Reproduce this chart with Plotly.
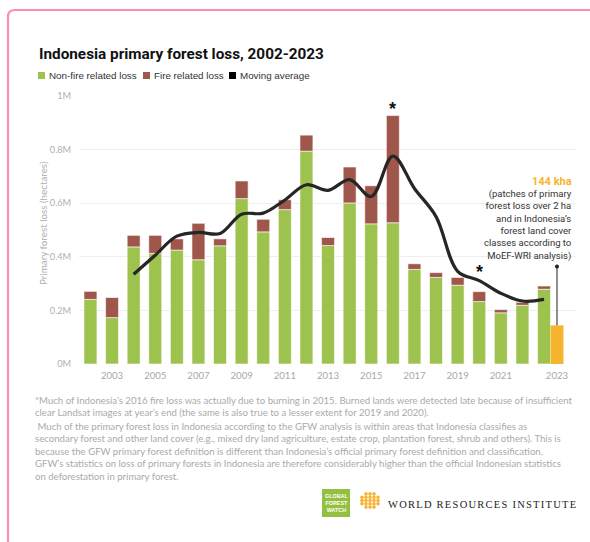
import plotly.graph_objects as go

# ---------------- data ----------------
years = list(range(2002, 2024))
non_fire = [0.241, 0.173, 0.437, 0.413, 0.425, 0.389, 0.441, 0.617, 0.493, 0.576, 0.794,
            0.442, 0.601, 0.523, 0.527, 0.353, 0.323, 0.294, 0.233, 0.191, 0.219, 0.279]
fire = [0.030, 0.075, 0.043, 0.067, 0.042, 0.136, 0.026, 0.066, 0.047, 0.037, 0.060,
        0.030, 0.134, 0.142, 0.400, 0.021, 0.018, 0.029, 0.037, 0.012, 0.011, 0.012]
ma_years = list(range(2004, 2024))
moving_avg = [0.335, 0.406, 0.477, 0.491, 0.487, 0.559, 0.563, 0.612, 0.669, 0.648,
              0.688, 0.625, 0.776, 0.655, 0.550, 0.346, 0.311, 0.264, 0.235, 0.241]
moef_year = [2023]
moef_value = [0.144]
star_years = [2016, 2020]
star_values = [0.950, 0.343]

y_ticks = [0, 0.2, 0.4, 0.6, 0.8, 1.0]
y_ticktext = ["0M", "0.2M", "0.4M", "0.6M", "0.8M", "1M"]
x_ticks = [2003, 2005, 2007, 2009, 2011, 2013, 2015, 2017, 2019, 2021, 2023.6]
x_ticktext = ["2003", "2005", "2007", "2009", "2011", "2013", "2015", "2017", "2019", "2021", "2023"]

GREEN = "#9dc24e"
BROWN = "#a0574b"
ORANGE = "#f5b52e"

# layout geometry (pixels)
FW, FH = 590, 542
L, R, T, B = 79, 14, 96, 178
PW, PH = FW - L - R, FH - T - B


def px(x):
    return (x - L) / PW


def py(y):
    return (FH - B - y) / PH


fig = go.Figure()

fig.add_trace(go.Bar(x=years, y=non_fire, marker=dict(color=GREEN, line=dict(color="white", width=0.6)),
                     width=0.6, name="Non-fire related loss", showlegend=False))
fig.add_trace(go.Bar(x=years, y=fire, base=non_fire,
                     marker=dict(color=BROWN, line=dict(color="white", width=0.6)),
                     width=0.6, name="Fire related loss", showlegend=False))
fig.add_trace(go.Bar(x=moef_year, y=moef_value, base=[0], offset=0.3, width=0.6,
                     marker=dict(color=ORANGE, line=dict(width=0)), showlegend=False))
fig.add_trace(go.Scatter(x=ma_years, y=moving_avg, mode="lines",
                         line=dict(color="#262626", width=3.2, shape="spline", smoothing=1.0),
                         showlegend=False))
# pointer from annotation to MoEF bar
fig.add_trace(go.Scatter(x=[2023.6, 2023.6], y=[0.364, moef_value[0]], mode="lines",
                         line=dict(color="#222", width=1), showlegend=False, hoverinfo="skip"))
fig.add_trace(go.Scatter(x=[2023.6], y=[0.364], mode="markers",
                         marker=dict(color="#222", size=4), showlegend=False, hoverinfo="skip"))

for sx, sy in zip(star_years, star_values):
    fig.add_annotation(x=sx, y=sy, text="<b>*</b>", showarrow=False, xref="x", yref="y",
                       font=dict(family="Liberation Sans", size=18, color="#111"),
                       xanchor="center", yanchor="middle")

annos = []
# title
annos.append(dict(x=px(37), y=py(54), text="<b>Indonesia primary forest loss, 2002-2023</b>",
                  font=dict(family="Roboto", size=15.3, color="#111"),
                  xanchor="left", yanchor="middle"))
# legend
leg = [(38, GREEN, "Non-fire related loss"), (143, BROWN, "Fire related loss"),
       (229, "#000000", "Moving average")]
shapes = []
for lx, col, txt in leg:
    shapes.append(dict(type="rect", xref="paper", yref="paper", x0=px(lx), x1=px(lx + 7),
                       y0=py(79), y1=py(72), fillcolor=col, line=dict(width=0)))
    annos.append(dict(x=px(lx + 8.5), y=py(75.5), text=txt, xanchor="left", yanchor="middle",
                      font=dict(family="Liberation Sans", size=9.8, color="#333")))
# y-axis title
annos.append(dict(x=px(43), y=py(223), text="Primary forest loss (hectares)", textangle=-90,
                  xanchor="center", yanchor="middle",
                  font=dict(family="Lato", size=9.8, color="#b0b0b0")))
# 144 kha annotation
annos.append(dict(x=px(574), y=py(181), text="<b>144 kha</b>", xanchor="right", yanchor="middle",
                  font=dict(family="Roboto", size=11, color=ORANGE)))
ann_text = ("(patches of primary<br>forest loss over 2 ha<br>and in Indonesia’s<br>"
            "forest land cover<br>classes according to<br>MoEF-WRI analysis)")
annos.append(dict(x=px(574), y=py(225.2), text=ann_text, xanchor="right", yanchor="middle",
                  align="right", font=dict(family="Roboto", size=9.5, color="#333")))
# footnotes
para1 = ("*Much of Indonesia’s 2016 fire loss was actually due to burning in 2015. Burned lands were detected late because of insufficient<br>"
         "clear Landsat images at year’s end (the same is also true to a lesser extent for 2019 and 2020).")
para2 = (" Much of the primary forest loss in Indonesia according to the GFW analysis is within areas that Indonesia classifies as<br>"
         "secondary forest and other land cover (e.g., mixed dry land agriculture, estate crop, plantation forest, shrub and others). This is<br>"
         "because the GFW primary forest definition is different than Indonesia’s official primary forest definition and classification.<br>"
         "GFW’s statistics on loss of primary forests in Indonesia are therefore considerably higher than the official Indonesian statistics<br>"
         "on deforestation in primary forest.")
annos.append(dict(x=px(33), y=py(406), text=para1, xanchor="left", yanchor="middle", align="left",
                  font=dict(family="Lato", size=9.6, color="#aaaaaa")))
annos.append(dict(x=px(33), y=py(451.5), text=para2, xanchor="left", yanchor="middle", align="left",
                  font=dict(family="Lato", size=9.6, color="#aaaaaa")))

# GFW logo
shapes.append(dict(type="rect", xref="paper", yref="paper", x0=px(322), x1=px(350),
                   y0=py(517), y1=py(489), fillcolor="#93c13f", line=dict(width=0)))
annos.append(dict(x=px(336), y=py(503), text="<b>GLOBAL<br>FOREST<br>WATCH</b>", xanchor="center",
                  yanchor="middle", align="center",
                  font=dict(family="Liberation Sans", size=5.4, color="white")))
# WRI emblem: dots in a round diamond
for r in range(-2, 3):
    for c in range(-2, 3):
        if abs(r) + abs(c) <= 3:
            cx, cy = 370 + c * 4, 500.5 + r * 3.3
            shapes.append(dict(type="circle", xref="paper", yref="paper",
                               x0=px(cx - 1.8), x1=px(cx + 1.8), y0=py(cy + 1.8), y1=py(cy - 1.8),
                               fillcolor="#f7b233", line=dict(width=0)))
annos.append(dict(x=px(482.5), y=py(504), xanchor="center", yanchor="middle",
                  text='<span style="letter-spacing:1.25px">WORLD RESOURCES INSTITUTE</span>',
                  font=dict(family="Liberation Serif", size=10.5, color="#222")))

# pink frame
r0 = 7
x0f, y0f = 8, 10
shapes.append(dict(type="path", xref="paper", yref="paper",
                   path=f"M {px(x0f)},{py(FH + 20)} L {px(x0f)},{py(y0f + r0)} "
                        f"Q {px(x0f)},{py(y0f)} {px(x0f + r0)},{py(y0f)} L {px(FW + 20)},{py(y0f)}",
                   line=dict(color="#ff8db0", width=2.2)))

for a in annos:
    a.setdefault("showarrow", False)
    a.setdefault("xref", "paper")
    a.setdefault("yref", "paper")
    fig.add_annotation(**a)

fig.update_layout(
    width=FW, height=FH,
    margin=dict(l=L, r=R, t=T, b=B),
    paper_bgcolor="white", plot_bgcolor="white",
    barmode="overlay", bargap=0.4,
    shapes=shapes,
    showlegend=False,
    xaxis=dict(range=[2001.47, 2024.48], tickmode="array", tickvals=x_ticks, ticktext=x_ticktext,
               showgrid=False, zeroline=False, showline=False,
               ticks="outside", ticklen=2, tickcolor="rgba(0,0,0,0)",
               tickfont=dict(family="Lato", size=9.6, color="#a8a8a8")),
    yaxis=dict(range=[0, 1.0], tickmode="array", tickvals=y_ticks, ticktext=y_ticktext,
               showgrid=True, gridcolor="#eeeeee", gridwidth=1, zeroline=False, showline=False,
               ticks="outside", ticklen=5, tickcolor="rgba(0,0,0,0)",
               tickfont=dict(family="Lato", size=9.2, color="#b0b0b0")),
)

fig.write_html("out.html", config={"displayModeBar": False},
               post_script="document.body.style.margin='0px';")
